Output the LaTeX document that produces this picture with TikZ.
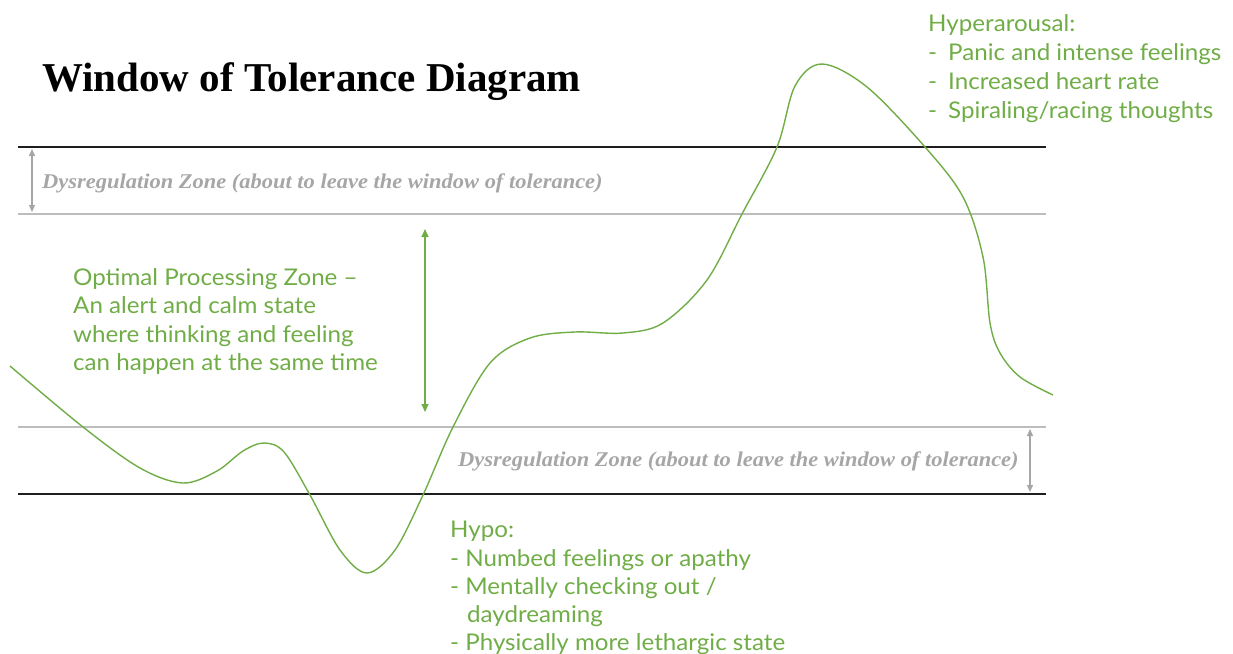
\documentclass[tikz,border=0pt]{standalone}
\usepackage{fontspec}
\setmainfont{Liberation Serif}
\newfontfamily\labelfont[FakeStretch=1.05]{Lato}
\newfontfamily\zonefont[FakeStretch=1.07]{Liberation Serif}
\usetikzlibrary{arrows.meta}
\definecolor{wotgreen}{HTML}{70AD47}
\definecolor{zonegray}{HTML}{A6A6A6}
\definecolor{rulegray}{HTML}{BDBDBD}
\definecolor{ruleblack}{HTML}{1E1E1E}
\begin{document}
\begin{tikzpicture}[x=1pt,y=-1pt,
  outer/.style={draw=ruleblack,line width=1.5pt},
  inner/.style={draw=rulegray,line width=1.5pt},
  span/.style={draw=zonegray,line width=1.2pt,{Triangle[width=6pt,length=7pt]}-{Triangle[width=6pt,length=7pt]}},
  greenspan/.style={draw=wotgreen,line width=1.5pt,{Triangle[width=7pt,length=8pt]}-{Triangle[width=7pt,length=8pt]}},
  curve/.style={draw=wotgreen,line width=1.4pt},
  txt/.style={inner sep=0pt,anchor=base west},
  gtxt/.style={txt,text=wotgreen,font=\labelfont\fontsize{23}{28}\selectfont},
  ztxt/.style={txt,text=zonegray,font=\zonefont\bfseries\itshape\fontsize{21}{24}\selectfont},
  title/.style={txt,font=\bfseries\fontsize{41}{48}\selectfont}]
\useasboundingbox (0,0) rectangle (1233,653);

% title
\node[title] (title) at (42,91) {Window of Tolerance Diagram};

% zone boundaries
\coordinate (t0) at (18,147);  \coordinate (t1) at (1046,147);
\coordinate (u0) at (18,214);  \coordinate (u1) at (1046,214);
\coordinate (l0) at (18,427);  \coordinate (l1) at (1046,427);
\coordinate (b0) at (18,494);  \coordinate (b1) at (1046,494);
\draw[outer] (t0) -- (t1);
\draw[inner] (u0) -- (u1);
\draw[inner] (l0) -- (l1);
\draw[outer] (b0) -- (b1);

% zone extents
\coordinate (ua) at (32,149);   \coordinate (ub) at (32,212);
\coordinate (la) at (1030,429); \coordinate (lb) at (1030,492);
\coordinate (ga) at (425,229);  \coordinate (gb) at (425,412);
\draw[span] (ua) -- (ub);
\draw[span] (la) -- (lb);
\draw[greenspan] (ga) -- (gb);

% zone labels
\node[ztxt] (dysTop) at (42,188) {Dysregulation Zone (about to leave the window of tolerance)};
\node[ztxt] (dysBot) at (458,466) {Dysregulation Zone (about to leave the window of tolerance)};

\node[gtxt] (opt1) at (73,285) {Optimal Processing Zone –};
\node[gtxt] (opt2) at (73,313) {An alert and calm state};
\node[gtxt] (opt3) at (73,342) {where thinking and feeling};
\node[gtxt] (opt4) at (73,370) {can happen at the same time};

\node[gtxt] (hyper0) at (928,31) {Hyperarousal:};
\node[gtxt] (hyper1) at (928,60) {-\hspace{11pt}Panic and intense feelings};
\node[gtxt] (hyper2) at (928,89) {-\hspace{11pt}Increased heart rate};
\node[gtxt] (hyper3) at (928,118) {-\hspace{11pt}Spiraling/racing thoughts};

\node[gtxt] (hypo0) at (450,537) {Hypo:};
\node[gtxt] (hypo1) at (450,566) {- Numbed feelings or apathy};
\node[gtxt] (hypo2) at (450,594) {- Mentally checking out /};
\node[gtxt] (hypo3) at (467,622) {daydreaming};
\node[gtxt] (hypo4) at (450,650) {- Physically more lethargic state};

% arousal curve
\draw[curve] plot[smooth,tension=0.55] coordinates {
  (10,366) (83,427) (140,468) (183,483) (217,471) (243,451) (264,443)
  (284,452) (310,495) (340,550) (367,573) (395,550) (423,495) (453,427)
  (490,363) (530,338) (575,332) (623,333) (663,323) (707,280) (742,214)
  (777,147) (795,86) (822,64) (867,87) (925,147) (963,197) (983,257)
  (990,323) (1000,353) (1020,377) (1053,395)};
\end{tikzpicture}
\end{document}
